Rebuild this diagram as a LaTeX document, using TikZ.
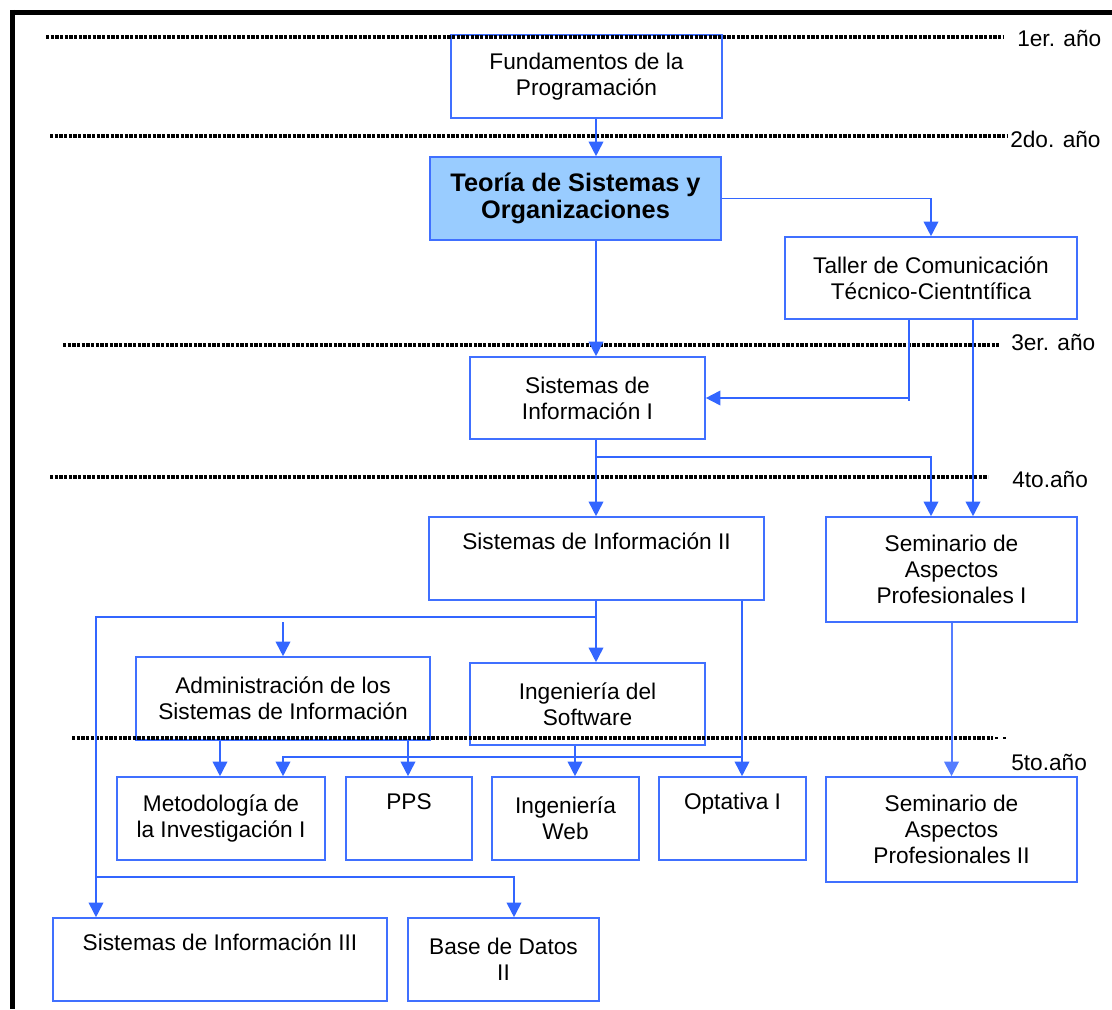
\documentclass[tikz,border=0pt]{standalone}
\usepackage{fontspec}
\setmainfont{Liberation Sans}
\usetikzlibrary{arrows.meta,calc}
\definecolor{boxblue}{RGB}{64,112,255}
\definecolor{lineblue}{RGB}{51,102,255}
\definecolor{lightline}{RGB}{85,125,255}
\definecolor{teofill}{RGB}{153,204,255}
\tikzset{
  box/.style 2 args={draw=boxblue, line width=1.2pt, fill=white, inner sep=0pt, align=center,
    minimum width=#1*0.75pt, minimum height=#2*0.75pt, font=\fontsize{17}{19.5}\selectfont},
  arr/.style={draw=lineblue, line width=1.3pt, -{Triangle[length=11pt,width=11pt]}},
  plain/.style={draw=lineblue, line width=1.3pt},
  yearline/.style={draw=black, line width=2.6pt, dash pattern=on 2.4pt off 1.1pt},
  yearlbl/.style={anchor=west, inner sep=0pt, font=\fontsize{17}{19.5}\selectfont}
}
\begin{document}
\begin{tikzpicture}[x=0.75pt,y=-0.75pt]
\useasboundingbox (0,0) rectangle (1112,1009);
% frame
\draw[line width=3.75pt] (10,12.5) -- (1112,12.5);
\draw[line width=3.75pt] (12.5,10) -- (12.5,1009);

% boxes
\node[box={271}{83}] (fund) at (586.5,76.5) {Fundamentos de la\\Programación};
\node[box={291}{83}, fill=teofill, font=\bfseries\fontsize{19}{20.5}\selectfont] (teoria) at (575.5,198.5) {Teoría de Sistemas y\\Organizaciones};
\node[box={292}{82}] (taller) at (931,278) {Taller de Comunicación\\Técnico-Cientntífica};
\node[box={235}{82}] (si1) at (587.5,398) {Sistemas de\\Información I};
\node[box={335}{83}] (si2) at (596.5,558.5) {Sistemas de Información II\\\strut};
\node[box={251}{105}] (sem1) at (951.5,569.5) {Seminario de\\Aspectos\\Profesionales I};
\node[box={294}{83}] (admin) at (283,698.5) {Administración de los\\Sistemas de Información};
\node[box={235}{82}] (ingsw) at (587.5,704) {Ingeniería del\\Software};
\node[box={208}{83}] (metod) at (221,818.5) {Metodología de\\la Investigación I};
\node[box={126}{83}] (pps) at (409,818.5) {PPS\\\strut};
\node[box={147}{83}] (ingweb) at (565.5,818.5) {Ingeniería\\Web};
\node[box={147}{83}] (opt) at (732.5,818.5) {Optativa I\\\strut};
\node[box={251}{105}] (sem2) at (951.5,829.5) {Seminario de\\Aspectos\\Profesionales II};
\node[box={334}{83}] (si3) at (220,959.5) {Sistemas de Información III\\\strut};
\node[box={191}{83}] (bd) at (503.5,959.5) {Base de Datos\\II};

% year lines and labels
\draw[yearline] (46,37) -- (1004,37);
\draw[yearline] (50,136) -- (1008,136);
\draw[yearline] (63,345) -- (999,345);
\draw[yearline] (50,477) -- (988,477);
\draw[yearline] (72,738) -- (993,738);
\draw[black, line width=1pt, dash pattern=on 2pt off 4pt] (995,738) -- (1010,738);
\node[yearlbl] (y1) at (1017,38) {1er. año};
\node[yearlbl] (y2) at (1010,139) {2do. año};
\node[yearlbl] (y3) at (1011,342) {3er. año};
\node[yearlbl] (y4) at (1012,479) {4to.año};
\node[yearlbl] (y5) at (1011,762) {5to.año};

% column / junction coordinates
\coordinate (cA) at (596,0);
\coordinate (cC) at (909,0);
\coordinate (cD) at (973,0);
\coordinate (cE) at (96,0);
\coordinate (cF) at (514,0);
\coordinate (cG) at (283,0);
\coordinate (cH) at (742,0);
\coordinate (cI) at (220,0);
\coordinate (cJ) at (408,0);
\coordinate (cK) at (575,0);
\coordinate (cB) at (931,0);
\coordinate (j1) at (596,457);
\coordinate (j2) at (596,617);
\coordinate (j3) at (96,877);
\coordinate (j4) at (742,757);
\coordinate (s1) at (283,622);
\coordinate (t1) at (909,401);

% connectors
\draw[arr] (fund.south -| cA) -- (teoria.north -| cA);
\draw[arr] (teoria.east) -| (taller.north);
\draw[arr] (teoria.south -| cA) -- (si1.north -| cA);
\draw[plain] (taller.south -| cC) -- (t1);
\draw[arr] (taller.south -| cC) |- (si1.east);
\draw[arr] (taller.south -| cD) -- (sem1.north -| cD);
\draw[arr] (si1.south -| cA) -- (si2.north -| cA);
\draw[arr] (j1) -| (sem1.north -| cB);
\draw[arr] (si2.south -| cA) -- (ingsw.north -| cA);
\draw[arr] (j2) -| (si3.north -| cE);
\draw[arr] (j3) -| (bd.north -| cF);
\draw[arr] (s1) -- (admin.north -| cG);
\draw[arr] (si2.south -| cH) -- (opt.north -| cH);
\draw[arr] (j4) -| (metod.north -| cG);
\draw[arr] (admin.south -| cI) -- (metod.north -| cI);
\draw[arr] (admin.south -| cJ) -- (pps.north -| cJ);
\draw[arr] (ingsw.south -| cK) -- (ingweb.north -| cK);
\draw[arr, draw=lightline, fill=lightline, line width=1.5pt] (sem1.south) -- (sem2.north);
\end{tikzpicture}
\end{document}
